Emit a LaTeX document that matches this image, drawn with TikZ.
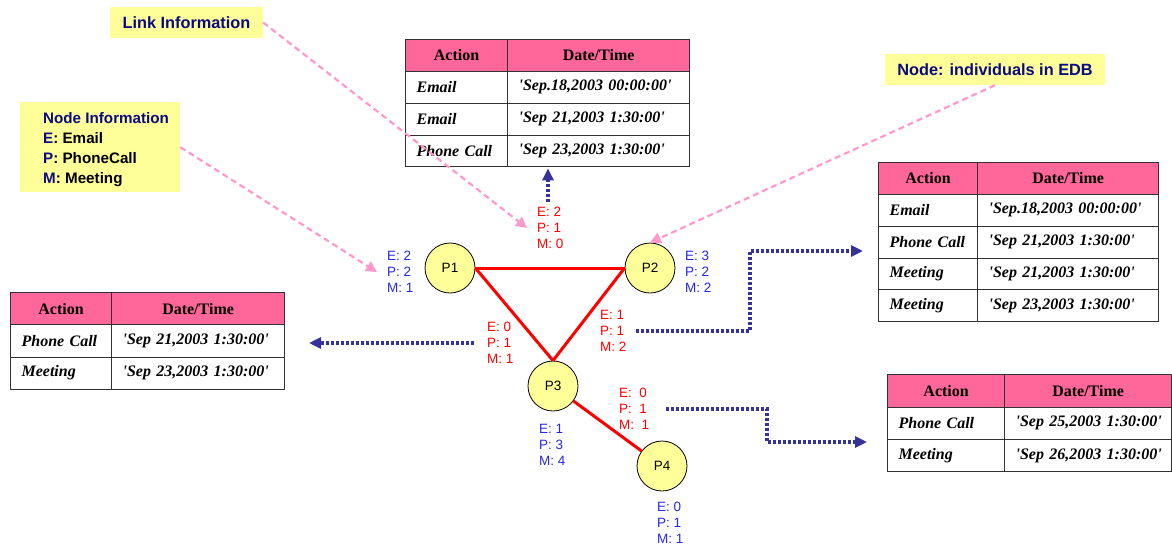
\documentclass[tikz,border=0pt]{standalone}
\usepackage{fontspec}
\setmainfont{Liberation Serif}[Ligatures=TeXOff]
\newfontfamily\sansf{Liberation Sans}
\usetikzlibrary{matrix,arrows.meta}
\definecolor{yel}{RGB}{255,255,153}
\definecolor{hdrpink}{RGB}{255,102,153}
\definecolor{navyb}{RGB}{51,51,153}
\definecolor{lblue}{RGB}{40,40,230}
\definecolor{legnavy}{RGB}{10,10,130}
\definecolor{pinkd}{RGB}{255,153,204}
\definecolor{tblc}{RGB}{50,50,50}
\tikzset{
 ybox/.style={fill=yel, inner sep=0pt, font=\sansf\bfseries\fontsize{16.3}{20}\selectfont, text=legnavy},
 person/.style={circle, draw=black, line width=0.8pt, fill=yel, minimum size=50pt, inner sep=0pt, font=\sansf\fontsize{13.5}{15}\selectfont},
 nlab/.style={anchor=north west, inner sep=0pt, align=left, text=lblue, font=\sansf\fontsize{13.5}{16}\selectfont},
 elab/.style={nlab, text=red},
 link/.style={red, line width=3pt},
 bluearr/.style={navyb, line width=3.5pt, dash pattern=on 3pt off 2pt, -{Triangle[length=12pt,width=11pt]}},
 pinkarr/.style={pinkd, line width=2.2pt, dash pattern=on 6pt off 4pt, -{Triangle[length=11pt,width=11pt]}},
 tblm/.style={matrix of nodes, inner sep=0pt, row sep=-0.8pt, column sep=-0.8pt, anchor=north west,
   nodes={draw=tblc, line width=0.8pt, minimum height=#1, inner ysep=0pt, inner xsep=11pt, align=left, anchor=center,
     execute at begin node={\hbox\bgroup}, execute at end node={\egroup},
     font=\bfseries\itshape\fontsize{16}{18}\selectfont}},
 hd/.style={fill=hdrpink, align=center, font=\bfseries\fontsize{16}{18}\selectfont},
}
\begin{document}
\begin{tikzpicture}[x=1pt,y=-1pt]
\useasboundingbox (0,0) rectangle (1172,544);
\fill[white] (0,0) rectangle (1172,544);

% tables
\matrix (T1) [tblm=31.8pt, column 1/.style={nodes={text width=80pt}}, column 2/.style={nodes={text width=160pt}}] at (405,39) {
 |[hd]| Action & |[hd]| Date/Time \\
 Email & 'Sep.18,2003 00:00:00' \\
 Email & 'Sep 21,2003 1:30:00' \\
 Phone Call & 'Sep 23,2003 1:30:00' \\
};
\matrix (T2) [tblm=31.8pt, column 1/.style={nodes={text width=77pt}}, column 2/.style={nodes={text width=159pt}}] at (878,162) {
 |[hd]| Action & |[hd]| Date/Time \\
 Email & 'Sep.18,2003 00:00:00' \\
 Phone Call & 'Sep 21,2003 1:30:00' \\
 Meeting & 'Sep 21,2003 1:30:00' \\
 Meeting & 'Sep 23,2003 1:30:00' \\
};
\matrix (T3) [tblm=32.2pt, column 1/.style={nodes={text width=79pt}}, column 2/.style={nodes={text width=151pt}}] at (10,292) {
 |[hd]| Action & |[hd]| Date/Time \\
 Phone Call & 'Sep 21,2003 1:30:00' \\
 Meeting & 'Sep 23,2003 1:30:00' \\
};
\matrix (T4) [tblm=32.4pt, column 1/.style={nodes={text width=95pt}}, column 2/.style={nodes={text width=145pt}}] at (887,374) {
 |[hd]| Action & |[hd]| Date/Time \\
 Phone Call & 'Sep 25,2003 1:30:00' \\
 Meeting & 'Sep 26,2003 1:30:00' \\
};

% legend boxes
\node[ybox, minimum width=153pt, minimum height=31pt] (linkinfo) at (186.5,22.5) {Link Information};
\node[ybox, minimum width=220pt, minimum height=31pt] (edb) at (995,69.5) {Node: individuals in EDB};
\node[ybox, minimum width=160pt, minimum height=90pt, anchor=north west] (nodeinfo) at (20,102) {};
\node[ybox, fill=none, anchor=north west, align=left, font=\sansf\bfseries\fontsize{15.2}{20}\selectfont] (nodeinfotxt) at (43,112.5)
 {Node Information\\E\textcolor{black}{: Email}\\P\textcolor{black}{: PhoneCall}\\M\textcolor{black}{: Meeting}};

% persons
\node[person] (P1) at (450,268) {P1};
\node[person] (P2) at (650,268) {P2};
\node[person] (P3) at (553,386) {P3};
\node[person] (P4) at (662,466) {P4};

\draw[link] (P1.east) -- (P2.west);
\draw[link] (P1.east) -- (P3.north);
\draw[link] (P2.west) -- (P3.north);
\draw[link] (P3) -- (P4);

% node labels
\node[nlab] (L1) at (387,251) {E: 2\\P: 2\\M: 1};
\node[nlab] (L2) at (685,251) {E: 3\\P: 2\\M: 2};
\node[nlab] (L3) at (539,424) {E: 1\\P: 3\\M: 4};
\node[nlab] (L4) at (657,501.5) {E: 0\\P: 1\\M: 1};
% edge labels
\node[elab] (E12) at (537,207) {E: 2\\P: 1\\M: 0};
\node[elab] (E13) at (487,322) {E: 0\\P: 1\\M: 1};
\node[elab] (E23) at (600,310) {E: 1\\P: 1\\M: 2};
\node[elab] (E34) at (619,388) {E:~~0\\P:~~1\\M:~~1};

% pink arrows
\coordinate (lt) at (527,228);
\coordinate (nt) at (377,272);
\draw[pinkarr] (linkinfo.east) -- (lt);
\draw[pinkarr] (nodeinfo.east) -- (nt);
\draw[pinkarr] (edb.south) -- (P2.north);

% blue arrows
\coordinate (b1) at (548,202);
\draw[bluearr, shorten >=1pt] (b1) -- (b1 |- T1.south);
\coordinate (b2s) at (474,343);
\coordinate (b2e) at (309,343);
\draw[bluearr] (b2s) -- (b2e);
\coordinate (b3s) at (636,331);
\coordinate (b3e) at (863,251);
\draw[bluearr] (b3s) -- ++(114,0) |- (b3e);
\coordinate (b4s) at (666,409);
\coordinate (b4e) at (867,442);
\draw[bluearr] (b4s) -- ++(101,0) |- (b4e);
\end{tikzpicture}
\end{document}
